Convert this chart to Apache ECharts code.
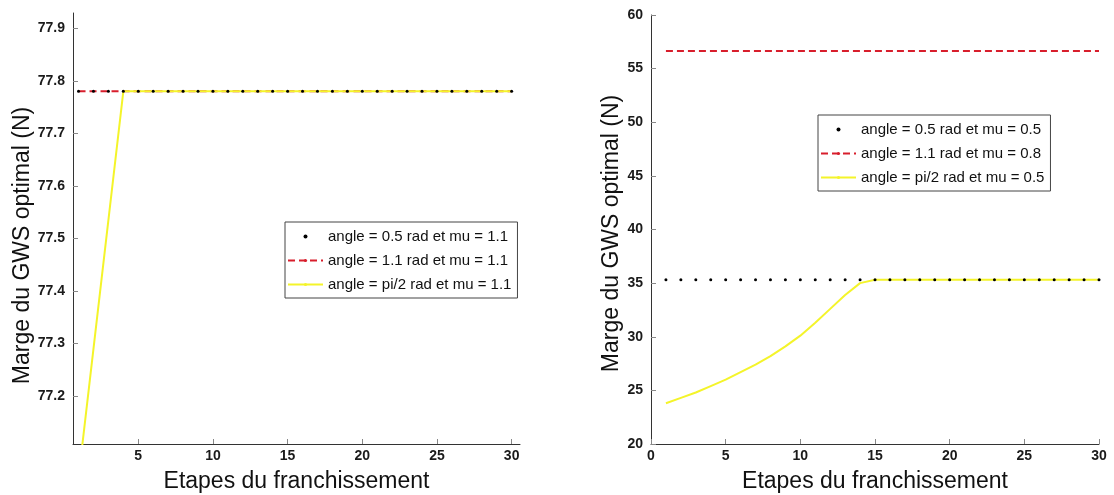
<!DOCTYPE html>
<html>
<head>
<meta charset="utf-8">
<script src="https://cdn.jsdelivr.net/npm/echarts@6/dist/echarts.min.js"></script>
<style>
html,body{margin:0;padding:0;background:#fff;}
#c{width:1114px;height:495px;}
</style>
</head>
<body>
<div id="c"></div>
<script>
// ---- data ----
const steps = [1,2,3,4,5,6,7,8,9,10,11,12,13,14,15,16,17,18,19,20,21,22,23,24,25,26,27,28,29,30];

const leftNames = ['angle = 0.5 rad et mu = 1.1','angle = 1.1 rad et mu = 1.1','angle = pi/2 rad et mu = 1.1'];
const leftDots   = [77.78,77.78,77.78,77.78,77.78,77.78,77.78,77.78,77.78,77.78,77.78,77.78,77.78,77.78,77.78,77.78,77.78,77.78,77.78,77.78,77.78,77.78,77.78,77.78,77.78,77.78,77.78,77.78,77.78,77.78];
const leftRed    = [77.78,77.78,77.78,77.78,77.78,77.78,77.78,77.78,77.78,77.78,77.78,77.78,77.78,77.78,77.78,77.78,77.78,77.78,77.78,77.78,77.78,77.78,77.78,77.78,77.78,77.78,77.78,77.78,77.78,77.78];
const leftYellow = [77.045,77.29,77.535,77.78,77.78,77.78,77.78,77.78,77.78,77.78,77.78,77.78,77.78,77.78,77.78,77.78,77.78,77.78,77.78,77.78,77.78,77.78,77.78,77.78,77.78,77.78,77.78,77.78,77.78,77.78];

const rightNames = ['angle = 0.5 rad et mu = 0.5','angle = 1.1 rad et mu = 0.8','angle = pi/2 rad et mu = 0.5'];
const rightDots   = [35.32,35.32,35.32,35.32,35.32,35.32,35.32,35.32,35.32,35.32,35.32,35.32,35.32,35.32,35.32,35.32,35.32,35.32,35.32,35.32,35.32,35.32,35.32,35.32,35.32,35.32,35.32,35.32,35.32,35.32];
const rightRed    = [56.65,56.65,56.65,56.65,56.65,56.65,56.65,56.65,56.65,56.65,56.65,56.65,56.65,56.65,56.65,56.65,56.65,56.65,56.65,56.65,56.65,56.65,56.65,56.65,56.65,56.65,56.65,56.65,56.65,56.65];
const rightYellow = [23.8,24.3,24.8,25.4,26.0,26.7,27.4,28.2,29.1,30.1,31.3,32.6,33.9,35.0,35.32,35.32,35.32,35.32,35.32,35.32,35.32,35.32,35.32,35.32,35.32,35.32,35.32,35.32,35.32,35.32];

const leftXTicks = [5,10,15,20,25,30];
const leftYTicks = [77.2,77.3,77.4,77.5,77.6,77.7,77.8,77.9];

const xTitle = 'Etapes du franchissement';
const yTitle = 'Marge du GWS optimal (N)';

// ---- chart ----
const FONT = '"Liberation Sans", Arial, Helvetica, sans-serif';
const pair = (xs, ys) => xs.map((x, i) => [x, ys[i]]);

const axisCommon = {
  axisLine: { show: true, onZero: false, lineStyle: { color: '#333', width: 1 } },
  axisTick: { show: true, inside: true, length: 5, lineStyle: { color: '#888' } },
  axisLabel: { color: '#1a1a1a', fontFamily: FONT, fontSize: 14, fontWeight: 'bold' },
  splitLine: { show: false },
  nameTextStyle: { color: '#111', fontFamily: FONT, fontSize: 23 }
};
const xLabel = Object.assign({}, axisCommon.axisLabel, { margin: 5 });

function xAxis(gridIndex, extra) {
  return Object.assign({}, axisCommon, {
    type: 'value', gridIndex, name: xTitle, nameLocation: 'middle', nameGap: 26,
    axisLabel: xLabel
  }, extra);
}
function yAxis(gridIndex, shift, extra) {
  return Object.assign({}, axisCommon, {
    type: 'value', gridIndex, name: yTitle, nameLocation: 'middle',
    nameTextStyle: Object.assign({}, axisCommon.nameTextStyle, { padding: [0, shift, 0, 0] })
  }, extra);
}

const red = '#d81e2c', yellow = '#f4f42a';
const legendCommon = {
  orient: 'vertical', itemWidth: 35, itemHeight: 4, itemGap: 9,
  backgroundColor: '#fff', borderColor: '#444', borderWidth: 1,
  padding: [7, 6, 6, 2], borderRadius: 0,
  textStyle: { color: '#111', fontFamily: FONT, fontSize: 15, lineHeight: 15 }
};

function series(names, xi, dots, redv, yel) {
  return [
    { name: names[0], type: 'line', xAxisIndex: xi, yAxisIndex: xi, data: pair(steps, dots),
      lineStyle: { opacity: 0, width: 0 }, symbol: 'circle', symbolSize: 3, showSymbol: true,
      itemStyle: { color: '#000' }, z: 5, silent: true, animation: false },
    { name: names[1], type: 'line', xAxisIndex: xi, yAxisIndex: xi, data: pair(steps, redv),
      showSymbol: false, symbol: 'none', lineStyle: { color: red, width: 2, type: [7, 4] },
      itemStyle: { color: red }, z: 3, animation: false },
    { name: names[2], type: 'line', xAxisIndex: xi, yAxisIndex: xi, data: pair(steps, yel),
      showSymbol: false, symbol: 'none', lineStyle: { color: yellow, width: 2 },
      itemStyle: { color: yellow }, z: 4, animation: false }
  ];
}

const chart = echarts.init(document.getElementById('c'), null, { renderer: 'canvas' });
chart.setOption({
  backgroundColor: '#fff',
  animation: false,
  grid: [
    { left: 73, top: 13, width: 447, height: 431, outerBoundsMode: 'none', containLabel: false },
    { left: 651, top: 15, width: 448, height: 429, outerBoundsMode: 'none', containLabel: false }
  ],
  xAxis: [
    xAxis(0, { min: 0.63, max: 30.56,
      axisTick: Object.assign({}, axisCommon.axisTick, { customValues: leftXTicks }),
      axisLabel: Object.assign({}, xLabel, { customValues: leftXTicks }) }),
    xAxis(1, { min: 0, max: 30, interval: 5 })
  ],
  yAxis: [
    yAxis(0, 34, { min: 77.109, max: 77.929, nameGap: 33,
      axisTick: Object.assign({}, axisCommon.axisTick, { customValues: leftYTicks }),
      axisLabel: Object.assign({}, axisCommon.axisLabel, { customValues: leftYTicks,
        formatter: v => v.toFixed(1) }) }),
    yAxis(1, 8, { min: 20, max: 60, interval: 5, nameGap: 24 })
  ],
  legend: [
    Object.assign({}, legendCommon, { left: 285, top: 222, data: [
      { name: leftNames[0], icon: 'circle', itemStyle: { color: '#000' } },
      { name: leftNames[1] }, { name: leftNames[2] } ] }),
    Object.assign({}, legendCommon, { left: 818, top: 115, data: [
      { name: rightNames[0], icon: 'circle', itemStyle: { color: '#000' } },
      { name: rightNames[1] }, { name: rightNames[2] } ] })
  ],
  series: [].concat(
    series(leftNames, 0, leftDots, leftRed, leftYellow),
    series(rightNames, 1, rightDots, rightRed, rightYellow)
  )
});
</script>
</body>
</html>
